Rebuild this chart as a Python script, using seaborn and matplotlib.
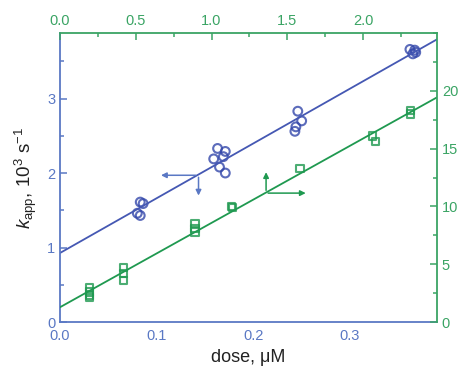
import numpy as np
import pandas as pd
import matplotlib
matplotlib.use("Agg")
import matplotlib.pyplot as plt
from matplotlib.ticker import MultipleLocator
import seaborn as sns

# Blue circles: k_app (10^3 s^-1) vs dose (uM), bottom/left axes
blue_dose = [0.083, 0.086, 0.080, 0.083,
             0.163, 0.171, 0.159, 0.169, 0.165, 0.171,
             0.246, 0.250, 0.244, 0.243,
             0.362, 0.367, 0.365, 0.368]
blue_kapp = [1.61, 1.59, 1.46, 1.43,
             2.33, 2.29, 2.19, 2.22, 2.08, 2.00,
             2.83, 2.70, 2.62, 2.56,
             3.66, 3.65, 3.60, 3.62]

# Green squares: top/right axes
green_x = [0.193, 0.193, 0.193, 0.193,
           0.418, 0.418, 0.418,
           0.891, 0.891, 0.891,
           1.133, 1.140,
           1.583,
           2.062, 2.080,
           2.311, 2.311]
green_y = [3.0, 2.6, 2.3, 2.1,
           4.7, 4.2, 3.6,
           8.5, 8.1, 7.8,
           10.0, 9.9,
           13.3,
           16.1, 15.6,
           18.3, 18.0]

bottom_ticks = [0.0, 0.1, 0.2, 0.3]
top_ticks = [0.0, 0.5, 1.0, 1.5, 2.0]
left_ticks = [0, 1, 2, 3]
right_ticks = [0, 5, 10, 15, 20]

BLUE = "#3347aa"
BLUE_LINE = "#4558b3"
BLUE_AX = "#5a78c4"
GREEN = "#1f9950"
GREEN_AX = "#3aa464"

sns.set_style("white")
plt.rcParams['font.family'] = ['Liberation Sans', 'DejaVu Sans']
plt.rcParams['mathtext.fontset'] = 'custom'
plt.rcParams['mathtext.rm'] = 'Liberation Sans'
plt.rcParams['mathtext.it'] = 'Liberation Sans:italic'

fig = plt.figure(figsize=(4.59, 3.66), dpi=100)
ax = fig.add_axes([60/459, 1-322/366, 377/459, 289/366])
ax.set_xlim(0, 0.39)
ax.set_ylim(0, 3.88)
ax2 = ax.twinx()
ax2.set_ylim(0, 25.0)
ax3 = ax2.twiny()
ax3.set_xlim(0, 2.488)
ax3.set_ylim(0, 25.0)

dfb = pd.DataFrame({"dose": blue_dose, "kapp": blue_kapp})
dfg = pd.DataFrame({"x": green_x, "y": green_y})

sns.regplot(data=dfb, x="dose", y="kapp", ax=ax, ci=None, truncate=False,
            marker="o", color=BLUE,
            scatter_kws=dict(s=40, facecolors="none", edgecolors=BLUE, linewidths=1.5),
            line_kws=dict(lw=1.3, color=BLUE_LINE))
sns.regplot(data=dfg, x="x", y="y", ax=ax3, ci=None, truncate=False,
            marker="s", color=GREEN,
            scatter_kws=dict(s=28, facecolors="none", edgecolors=GREEN, linewidths=1.5),
            line_kws=dict(lw=1.3, color=GREEN))
ax.set_xlim(0, 0.39)
ax.set_ylim(0, 3.88)
ax3.set_xlim(0, 2.488)
ax3.set_ylim(0, 25.0)

# arrows
ax.annotate("", xy=(0.1016, 1.97), xytext=(0.1433, 1.97),
            arrowprops=dict(arrowstyle="-|>", color=BLUE_AX, lw=1.1, mutation_scale=8))
ax.annotate("", xy=(0.1433, 1.66), xytext=(0.1433, 1.98),
            arrowprops=dict(arrowstyle="-|>", color=BLUE_AX, lw=1.1, mutation_scale=8))
ax3.annotate("", xy=(1.36, 13.2), xytext=(1.36, 11.15),
             arrowprops=dict(arrowstyle="-|>", color=GREEN, lw=1.1, mutation_scale=8))
ax3.annotate("", xy=(1.64, 11.15), xytext=(1.355, 11.15),
             arrowprops=dict(arrowstyle="-|>", color=GREEN, lw=1.1, mutation_scale=8))

# axes styling
for a in (ax, ax2, ax3):
    for s in a.spines.values():
        s.set_visible(False)
ax.spines["left"].set_visible(True)
ax.spines["bottom"].set_visible(True)
ax.spines["left"].set_color(BLUE_AX)
ax.spines["bottom"].set_color(BLUE_AX)
ax3.spines["top"].set_visible(True)
ax3.spines["right"].set_visible(True)
ax3.spines["top"].set_color(GREEN_AX)
ax3.spines["right"].set_color(GREEN_AX)
for a in (ax, ax3):
    for s in a.spines.values():
        s.set_linewidth(1.3)

ax.set_xticks(bottom_ticks)
ax.set_xticklabels([f"{v:.1f}" for v in bottom_ticks])
ax.set_yticks(left_ticks)
ax.set_yticklabels([str(v) for v in left_ticks])
ax.xaxis.set_minor_locator(MultipleLocator(0.05))
ax.yaxis.set_minor_locator(MultipleLocator(0.5))
ax.tick_params(axis="both", which="both", direction="in", colors=BLUE_AX,
               labelcolor=BLUE_AX, labelsize=10.5, width=1.1)
ax.tick_params(which="major", length=5)
ax.tick_params(which="minor", length=3)
ax.tick_params(axis="x", pad=5)

ax2.set_yticks(right_ticks)
ax2.set_yticklabels([str(v) for v in right_ticks])
ax2.yaxis.set_minor_locator(MultipleLocator(2.5))
ax2.tick_params(axis="y", which="both", direction="in", colors=GREEN_AX,
                labelcolor=GREEN_AX, labelsize=10.5, width=1.1)
ax2.tick_params(which="major", length=5)
ax2.tick_params(which="minor", length=3)

ax3.set_xticks(top_ticks)
ax3.set_xticklabels([f"{v:.1f}" for v in top_ticks])
ax3.xaxis.set_minor_locator(MultipleLocator(0.25))
ax3.tick_params(axis="x", which="both", direction="in", colors=GREEN_AX,
                labelcolor=GREEN_AX, labelsize=10.5, width=1.1)
ax3.tick_params(which="major", length=5)
ax3.tick_params(which="minor", length=3)
ax3.tick_params(axis="y", which="both", left=False, right=False, labelleft=False, labelright=False)
ax3.set_xlabel("")
ax3.set_ylabel("")
ax2.set_ylabel("")

ax.set_xlabel("dose, \u03bcM", fontsize=13, color="#222222", labelpad=4)
ax.set_ylabel(r"$k_{\mathrm{app}}$, 10$^3$ s$^{-1}$", fontsize=13.5, color="#222222", labelpad=6)

fig.savefig("out.png", dpi=100)
